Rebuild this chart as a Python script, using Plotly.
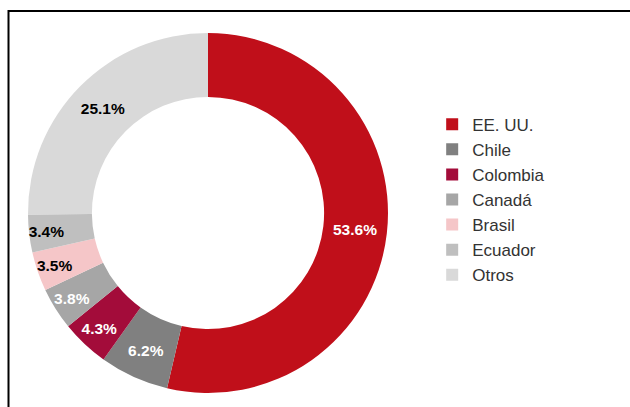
import plotly.graph_objects as go

countries = ["EE. UU.", "Chile", "Colombia", "Canadá", "Brasil", "Ecuador", "Otros"]
shares = [53.6, 6.2, 4.3, 3.8, 3.5, 3.4, 25.1]
labels_txt = ["53.6%", "6.2%", "4.3%", "3.8%", "3.5%", "3.4%", "25.1%"]
colors = ["#c00f1a", "#808080", "#a30c3a", "#a6a6a6", "#f5c6c8", "#bfbfbf", "#d9d9d9"]
text_colors = ["white", "white", "white", "white", "black", "black", "black"]

W, H = 630, 407
cx, cy, R = 208, 213, 180

fig = go.Figure(go.Pie(
    labels=countries,
    values=shares,
    text=labels_txt,
    texttemplate="<b>%{text}</b>",
    textposition="inside",
    insidetextorientation="horizontal",
    textfont=dict(family="Liberation Sans, Arial", size=15.5, color=text_colors),
    marker=dict(colors=colors, line=dict(width=0)),
    hole=0.645,
    sort=False,
    direction="clockwise",
    rotation=0,
    domain=dict(x=[(cx - R) / W, (cx + R) / W], y=[(H - cy - R) / H, (H - cy + R) / H]),
))

fig.update_layout(
    width=W, height=H,
    margin=dict(l=0, r=0, t=0, b=0),
    paper_bgcolor="white",
    font=dict(family="Liberation Sans, Arial", color="#333333"),
    uniformtext=dict(minsize=15.5, mode="show"),
    legend=dict(
        x=0.686, y=0.738, xanchor="left", yanchor="top",
        font=dict(size=17, color="#333333"),
        itemwidth=30,
        tracegroupgap=0,
    ),
    shapes=[dict(
        type="rect", xref="paper", yref="paper",
        x0=8.5 / W, x1=1.05, y0=-0.05, y1=(H - 11) / H,
        line=dict(color="black", width=2),
    )],
)

fig.write_html("out.html")
